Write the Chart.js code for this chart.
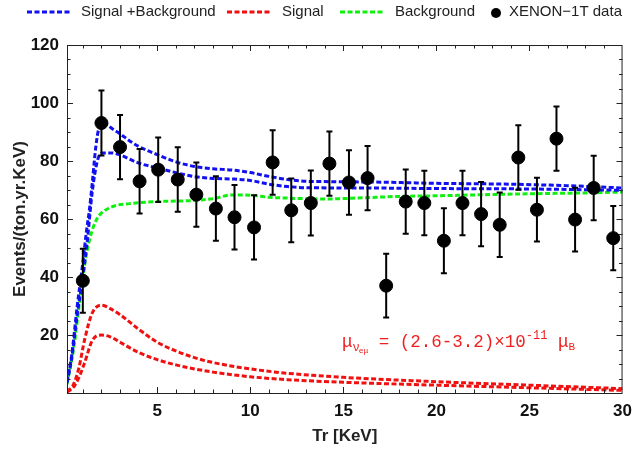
<!DOCTYPE html>
<html>
<head>
<meta charset="utf-8">
<script src="https://cdn.jsdelivr.net/npm/chart.js@4.4.0/dist/chart.umd.min.js"></script>
<style>
  html, body { margin: 0; padding: 0; background: #fff; }
</style>
</head>
<body>
<canvas id="plot" width="640" height="451"></canvas>
<script>
// XENON-1T data points (x, y, symmetric error)
const dataX = [1.0, 2.0, 3.0, 4.05, 5.05, 6.1, 7.1, 8.15, 9.15, 10.2, 11.2, 12.2, 13.25, 14.25, 15.3,
               16.3, 17.3, 18.35, 19.35, 20.4, 21.4, 22.4, 23.4, 24.4, 25.4, 26.45, 27.45, 28.45, 29.5];
const dataY = [38.7, 93.1, 84.8, 73.0, 77.0, 73.6, 68.4, 63.6, 60.6, 57.1, 79.5, 63.0, 65.5, 79.1, 72.6,
               74.1, 37.0, 66.0, 65.5, 52.5, 65.5, 61.7, 58.0, 81.2, 63.2, 87.7, 59.8, 70.7, 53.4];
const dataErr = [11, 11.2, 11.1, 11.1, 11.1, 11.1, 11.1, 11.1, 11.1, 11.1, 11.1, 11, 11.2, 11.1, 11.1,
                 11.1, 11, 11.1, 11.1, 11.2, 11.1, 11.1, 11.1, 11.1, 11, 11.1, 11, 11.1, 11.1];

// Signal + Background (upper / lower edge of band)
const sbHiX = [0.15, 0.4, 0.7, 1.0, 1.2, 1.35, 1.5, 1.7, 1.85, 2.0, 2.3, 2.6, 2.95, 3.5, 4, 5, 6, 7, 8, 9,
               10, 11, 12, 13, 14, 17, 20, 24, 27, 30];
const sbHiY = [4, 13, 30, 45, 56, 63, 72, 85, 91, 93, 92.5, 91, 89.6, 87, 85, 82.2, 79.7, 78.1, 77.3, 76.9,
               76, 74.7, 73.6, 73.0, 72.9, 72.7, 72.3, 72.0, 71.5, 70.7];
const sbLoX = [0.15, 0.4, 0.7, 1.0, 1.25, 1.5, 1.78, 2.05, 2.5, 2.95, 4, 5, 6, 7, 8, 9, 10, 11, 12, 13,
               16, 20, 24, 27, 30];
const sbLoY = [3.5, 12, 27, 40, 53, 69, 80, 82.8, 82.8, 82.2, 79.3, 77.6, 76, 74.6, 74, 73.8, 73.3, 72,
               71.2, 70.8, 70.7, 70.5, 70.4, 70.2, 69.9];

// Signal only
const sigX   = [0.15, 0.5, 0.8, 1.1, 1.5, 2.0, 2.5, 3, 4, 5, 6, 7, 8, 10, 12, 15, 20, 25, 30];
const sigHiY = [0.5, 3, 9, 18.5, 27.5, 30.3, 29, 27, 22, 17.5, 14.5, 12.2, 10.5, 8.3, 6.8, 5.4, 3.9, 2.7, 1.5];
const sigLoY = [0.3, 2, 5.5, 10.5, 18, 20, 19.3, 17.5, 14, 11.5, 9.7, 8.3, 7.2, 5.6, 4.6, 3.7, 2.7, 1.8, 0.9];

// Background only
const bkgX = [0.15, 0.5, 0.8, 1.0, 1.2, 1.5, 1.8, 2.2, 2.8, 3.5, 5, 7, 8, 9, 10, 11, 12, 14, 16, 18, 20,
              22, 25, 28, 30];
const bkgY = [3, 15, 30, 40, 48, 56, 60.5, 63, 64.7, 65.3, 66, 66.4, 67, 68.3, 68.2, 67.5, 67.2, 66.9,
              67.3, 67.8, 68, 68.3, 68.7, 69, 69.3];

// axis ticks
const xTicks = [5, 10, 15, 20, 25, 30];
const yTicks = [20, 40, 60, 80, 100, 120];

const BLUE = "#1010f0", RED = "#f01010", GREEN = "#10f010";
const DASH = [5, 2.5];
const FONT = "'Liberation Sans', Arial, sans-serif";

const pts = (xs, ys) => xs.map((x, i) => ({ x: x, y: ys[i] }));

function curve(label, xs, ys, color) {
  return {
    label: label,
    data: pts(xs, ys),
    borderColor: color,
    borderWidth: 3,
    borderDash: DASH,
    pointRadius: 0,
    fill: false,
    cubicInterpolationMode: "monotone",
    showLine: true
  };
}

// inward frame ticks on all four sides
const framePlugin = {
  id: "frame",
  afterDraw(chart) {
    const { ctx, chartArea: a, scales: { x, y } } = chart;
    ctx.save();
    ctx.strokeStyle = "#222";
    ctx.lineWidth = 1;
    ctx.strokeRect(a.left + 0.5, a.top + 0.5, a.right - a.left - 1, a.bottom - a.top);
    ctx.beginPath();
    for (let v = 1; v <= 29; v++) {
      const px = Math.round(x.getPixelForValue(v)) + 0.5;
      const len = v % 5 === 0 ? 6 : 3.5;
      ctx.moveTo(px, a.bottom); ctx.lineTo(px, a.bottom - len);
      ctx.moveTo(px, a.top); ctx.lineTo(px, a.top + len);
    }
    for (let v = 5; v < 120; v += 5) {
      const py = Math.round(y.getPixelForValue(v)) + 0.5;
      const len = v % 20 === 0 ? 6 : 3.5;
      ctx.moveTo(a.left, py); ctx.lineTo(a.left + len, py);
      ctx.moveTo(a.right, py); ctx.lineTo(a.right - len, py);
    }
    ctx.stroke();
    ctx.restore();
  }
};

// error bars, drawn just before the data points
const errorBarPlugin = {
  id: "errbars",
  beforeDatasetDraw(chart, args) {
    if (args.index !== 0) return;
    const { ctx, scales: { x, y } } = chart;
    ctx.save();
    ctx.strokeStyle = "#000";
    ctx.lineWidth = 2;
    ctx.beginPath();
    dataX.forEach((xv, i) => {
      const px = x.getPixelForValue(xv);
      const top = y.getPixelForValue(dataY[i] + dataErr[i]);
      const bot = y.getPixelForValue(dataY[i] - dataErr[i]);
      ctx.moveTo(px, top); ctx.lineTo(px, bot);
      ctx.moveTo(px - 3, top); ctx.lineTo(px + 3, top);
      ctx.moveTo(px - 3, bot); ctx.lineTo(px + 3, bot);
    });
    ctx.stroke();
    ctx.restore();
  }
};

// legend row on top
const legendPlugin = {
  id: "topLegend",
  afterDraw(chart) {
    const ctx = chart.ctx;
    const items = [
      { kind: "line", color: BLUE, x0: 27, x1: 70, text: "Signal +Background", tx: 81 },
      { kind: "line", color: RED, x0: 227, x1: 272, text: "Signal", tx: 282 },
      { kind: "line", color: GREEN, x0: 340, x1: 385, text: "Background", tx: 395 },
      { kind: "dot", color: "#000", x0: 496, text: "XENON\u22121T data", tx: 509 }
    ];
    const yc = 12;
    ctx.save();
    items.forEach(it => {
      if (it.kind === "line") {
        ctx.strokeStyle = it.color;
        ctx.lineWidth = 3;
        ctx.setLineDash(DASH);
        ctx.beginPath(); ctx.moveTo(it.x0, yc); ctx.lineTo(it.x1, yc); ctx.stroke();
        ctx.setLineDash([]);
      } else {
        ctx.fillStyle = it.color;
        ctx.beginPath(); ctx.arc(it.x0, yc + 1, 5, 0, Math.PI * 2); ctx.fill();
      }
      ctx.fillStyle = "#222";
      ctx.font = "15px " + FONT;
      ctx.textBaseline = "middle";
      ctx.fillText(it.text, it.tx, yc);
    });
    ctx.restore();
  }
};

// magnetic moment annotation
const notePlugin = {
  id: "note",
  afterDatasetsDraw(chart) {
    const ctx = chart.ctx;
    const mono = "'Liberation Mono', 'DejaVu Sans Mono', monospace";
    const base = 347;
    ctx.save();
    ctx.fillStyle = "#f02020";
    ctx.textBaseline = "alphabetic";
    let cx = 342;
    const put = (s, size, dy) => {
      ctx.font = size + "px " + mono;
      ctx.fillText(s, cx, base + dy);
      cx += ctx.measureText(s).width;
    };
    put("\u03bc", 17.5, 0);
    put("\u03bd", 12, 4);
    cx -= 1;
    put("e\u03bc", 8, 6);
    put(" = (2.6-3.2)\u00d710", 17.5, 0);
    put("-11", 12, -8);
    put(" \u03bc", 17.5, 0);
    put("B", 11, 3);
    ctx.restore();
  }
};

const ctx = document.getElementById("plot");
new Chart(ctx, {
  type: "scatter",
  data: {
    datasets: [
      {
        label: "XENON-1T data",
        data: pts(dataX, dataY),
        pointRadius: 6.5,
        pointHoverRadius: 6.5,
        pointBackgroundColor: "#000",
        pointBorderColor: "#000",
        showLine: false
      },
      curve("Signal +Background", sbHiX, sbHiY, BLUE),
      curve("Signal +Background", sbLoX, sbLoY, BLUE),
      curve("Background", bkgX, bkgY, GREEN),
      curve("Signal", sigX, sigHiY, RED),
      curve("Signal", sigX, sigLoY, RED)
    ]
  },
  options: {
    responsive: false,
    animation: false,
    layout: { padding: { left: 0, right: 9, top: 45, bottom: 0 } },
    plugins: { legend: { display: false }, tooltip: { enabled: false } },
    scales: {
      x: {
        type: "linear",
        min: 0.15,
        max: 30,
        afterBuildTicks: s => { s.ticks = xTicks.map(v => ({ value: v })); },
        afterFit: s => { s.height = 58; },
        grid: { display: false, drawTicks: false },
        border: { display: false },
        ticks: { color: "#111", padding: 8, maxRotation: 0, font: { family: FONT, size: 17, weight: "bold" } },
        title: { display: true, text: "Tr [KeV]", color: "#222", padding: { top: 0, bottom: 4 },
                 font: { family: FONT, size: 17, weight: "bold" } }
      },
      y: {
        type: "linear",
        min: 0,
        max: 120,
        afterBuildTicks: s => { s.ticks = yTicks.map(v => ({ value: v })); },
        afterFit: s => { s.width = 67; },
        grid: { display: false, drawTicks: false },
        border: { display: false },
        ticks: { color: "#111", padding: 8, font: { family: FONT, size: 17, weight: "bold" } },
        title: { display: true, text: "Events/(ton.yr.KeV)", color: "#222", padding: { top: 10, bottom: 0 },
                 font: { family: FONT, size: 17, weight: "bold" } }
      }
    }
  },
  plugins: [framePlugin, errorBarPlugin, legendPlugin, notePlugin]
});
</script>
</body>
</html>
